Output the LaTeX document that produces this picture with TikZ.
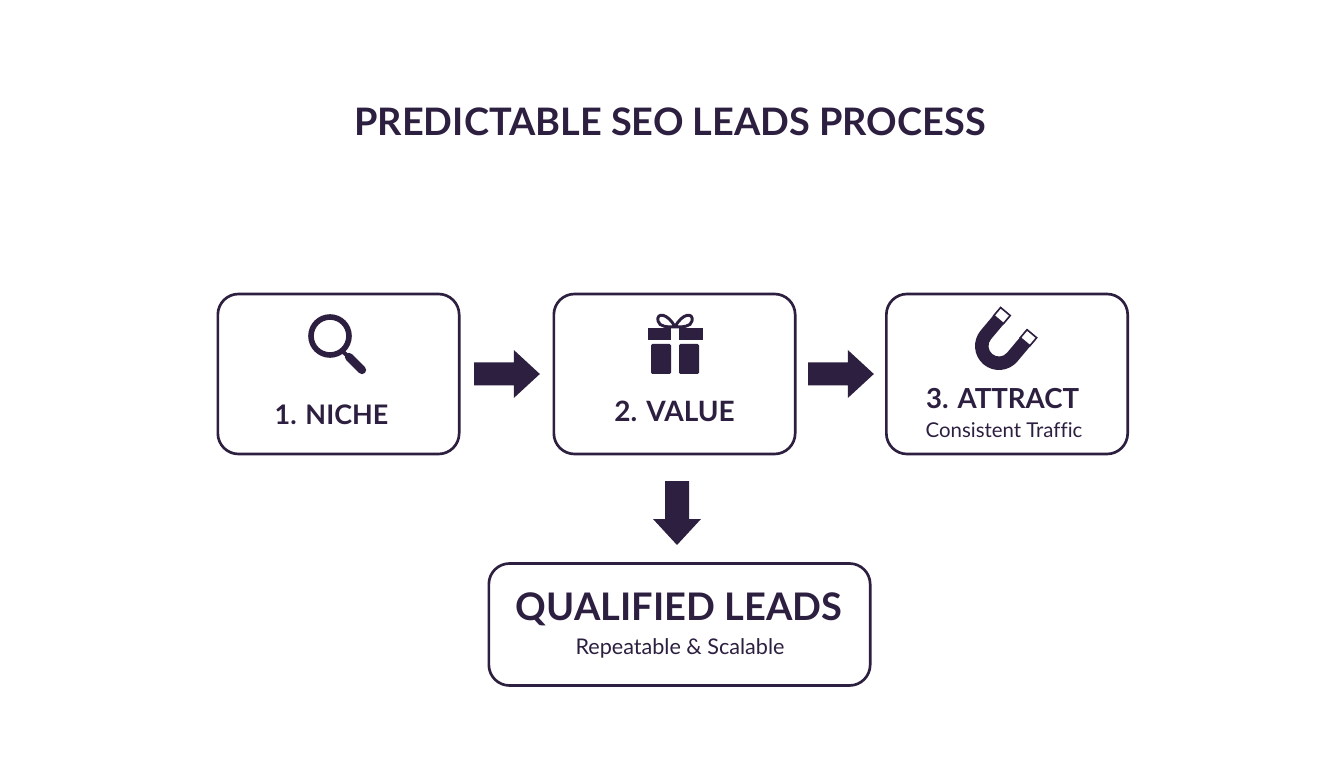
\documentclass[tikz,border=0pt]{standalone}
\usepackage{fontspec}
\setmainfont[Ligatures=NoCommon]{Lato}
\usetikzlibrary{calc}
\definecolor{ink}{HTML}{2D1F40}
\tikzset{
  x=0.75pt,y=0.75pt,
  box/.style={draw=ink,line width=2pt,rounded corners=15.5pt,fill=white,inner sep=0pt,outer sep=0pt},
  stepbox/.style={box,minimum width=181pt,minimum height=120pt},
  lbl/.style={text=ink,inner sep=0pt,outer sep=0pt,anchor=base},
  blockarrow/.style={fill=ink,draw=none},
}
\newcommand{\bsize}[1]{\fontsize{#1}{#1}\selectfont\bfseries}
\newcommand{\rsize}[1]{\fontsize{#1}{#1}\selectfont}
\newcommand{\hblock}[2]{\fill[blockarrow] ($#1+(0,11.5)$) -- ($#2+(-26,11.5)$) -- ($#2+(-26,24)$) -- ($#2$) -- ($#2+(-26,-24)$) -- ($#2+(-26,-11.5)$) -- ($#1+(0,-11.5)$) -- cycle;}
\begin{document}
\begin{tikzpicture}
\useasboundingbox (0,0) rectangle (1344,768);
\fill[white] (0,0) rectangle (1344,768);
% boxes
\node[stepbox] (b1) at (338.5,394) {};
\node[stepbox] (b2) at (674.5,394) {};
\node[stepbox] (b3) at (1007,394) {};
\node[box,minimum width=286pt,minimum height=91.5pt] (b4) at (679.5,143.5) {};
% texts
\node[lbl] (title) at (670,632.5) {\bsize{28.4}PREDICTABLE SEO LEADS PROCESS};
\node[lbl] (t1) at (331.5,344) {\bsize{20.2}1. NICHE};
\node[lbl] (t2) at (674.5,346) {\bsize{21}2. VALUE};
\node[lbl] (t3) at (1002.5,359) {\bsize{20.7}3. ATTRACT};
\node[lbl] (s3) at (1004,330) {\rsize{15.3}Consistent Traffic};
\node[lbl] (t4) at (679,148) {\bsize{28.5}QUALIFIED LEADS};
\node[lbl] (s4) at (680,114) {\rsize{16.2}Repeatable \& Scalable};
% arrows
\hblock{(b1.east)+(15,0)}{(b2.west)+(-14,0)}
\hblock{(b2.east)+(13,0)}{(b3.west)+(-12.5,0)}
\fill[blockarrow] ($(b2.south)+(-9.5,-27)$) -- ($(b2.south)+(14.5,-27)$) -- ($(b4.north)+(9.5,44.5)$) -- ($(b4.north)+(21.5,44.5)$) -- ($(b4.north)+(-2.5,18.5)$) -- ($(b4.north)+(-26.5,44.5)$) -- ($(b4.north)+(-14.5,44.5)$) -- cycle;
% magnifier
\draw[ink,line width=4.2pt] (330,432) circle (19);
\draw[ink,line width=3pt] (342,417) -- (349,411);
\draw[ink,line width=6.2pt,line cap=round] (349,411) -- (362,398);
% gift
\fill[ink] (648,440) rectangle (671,428);
\fill[ink] (679,440) rectangle (703,428);
\fill[ink,rounded corners=1pt] (651,424) rectangle (671,394);
\fill[ink,rounded corners=1pt] (679,424) rectangle (699,394);
\draw[ink,line width=2.2pt] (675,441) .. controls (668,455) and (656,456) .. (658,447) .. controls (659,441) and (668,441) .. (675,441)
  .. controls (682,455) and (694,456) .. (692,447) .. controls (691,441) and (682,441) .. (675,441);
% magnet
\begin{scope}[shift={(999,422)},rotate=-40]
\fill[ink] (-24,31) -- (-24,0) arc (180:360:24) -- (24,31) -- (10.5,31) -- (10.5,0) arc (360:180:10.5) -- (-10.5,31) -- cycle;
\draw[ink,fill=white,line width=1.2pt] (-23.5,20) rectangle (-11,30.5);
\draw[ink,fill=white,line width=1.2pt] (11,20) rectangle (23.5,30.5);
\end{scope}
\end{tikzpicture}
\end{document}
